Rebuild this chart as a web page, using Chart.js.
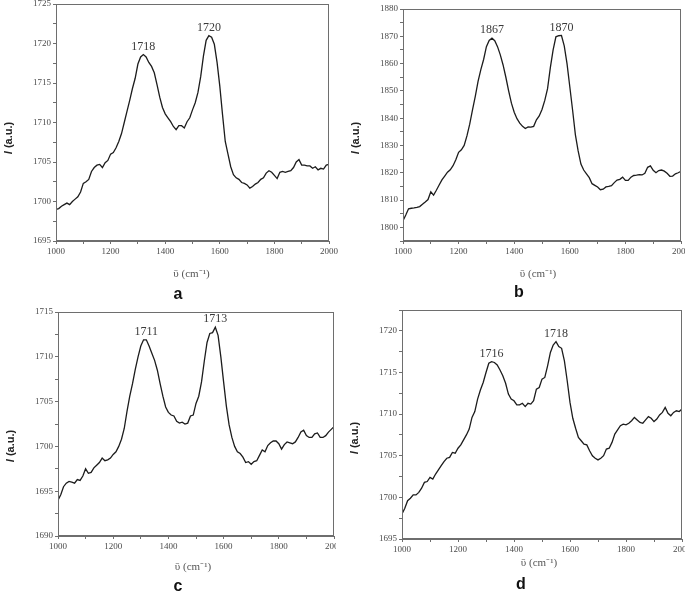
<!DOCTYPE html>
<html>
<head>
<meta charset="utf-8">
<script src="https://cdn.jsdelivr.net/npm/chart.js@4.4.1/dist/chart.umd.min.js"></script>
<style>
  html, body { margin: 0; padding: 0; background: #fff; }
  #page { position: relative; width: 685px; height: 594px; overflow: hidden; background: #fff; }
  .cell { position: absolute; overflow: hidden; }
  .cell canvas { position: absolute; }
</style>
</head>
<body>
<div id="page">
  <div class="cell" id="cellA"><canvas id="chartA"></canvas></div>
  <div class="cell" id="cellB"><canvas id="chartB"></canvas></div>
  <div class="cell" id="cellC"><canvas id="chartC"></canvas></div>
  <div class="cell" id="cellD"><canvas id="chartD"></canvas></div>
</div>
<script>
// wavenumber (cm-1)
const wavenumbers = [1000, 1010, 1020, 1030, 1040, 1050, 1060, 1070, 1080, 1090,
                     1100, 1110, 1120, 1130, 1140, 1150, 1160, 1170, 1180, 1190,
                     1200, 1210, 1220, 1230, 1240, 1250, 1260, 1270, 1280, 1290,
                     1300, 1310, 1320, 1330, 1340, 1350, 1360, 1370, 1380, 1390,
                     1400, 1410, 1420, 1430, 1440, 1450, 1460, 1470, 1480, 1490,
                     1500, 1510, 1520, 1530, 1540, 1550, 1560, 1570, 1580, 1590,
                     1600, 1610, 1620, 1630, 1640, 1650, 1660, 1670, 1680, 1690,
                     1700, 1710, 1720, 1730, 1740, 1750, 1760, 1770, 1780, 1790,
                     1800, 1810, 1820, 1830, 1840, 1850, 1860, 1870, 1880, 1890,
                     1900, 1910, 1920, 1930, 1940, 1950, 1960, 1970, 1980, 1990, 2000];

const intensityA = [1699.0, 1699.1, 1699.4, 1699.6, 1699.8, 1699.6, 1700.0, 1700.3, 1700.6, 1701.2,
                    1702.3, 1702.5, 1702.8, 1703.8, 1704.3, 1704.6, 1704.7, 1704.3, 1704.9, 1705.2,
                    1706.0, 1706.2, 1706.8, 1707.6, 1708.6, 1710.0, 1711.4, 1712.8, 1714.3, 1715.6,
                    1717.4, 1718.3, 1718.6, 1718.3, 1717.6, 1717.1, 1716.3, 1714.8, 1713.2, 1711.9,
                    1711.1, 1710.6, 1710.1, 1709.5, 1709.1, 1709.6, 1709.6, 1709.3, 1710.1, 1710.6,
                    1711.6, 1712.5, 1713.8, 1715.8, 1718.4, 1720.4, 1721.0, 1720.8, 1719.9, 1717.6,
                    1714.6, 1711.0, 1707.6, 1706.0, 1704.4, 1703.4, 1703.0, 1702.8, 1702.4, 1702.3,
                    1702.1, 1701.7, 1701.9, 1702.2, 1702.4, 1702.8, 1703.0, 1703.6, 1703.9, 1703.7,
                    1703.3, 1702.9, 1703.7, 1703.8, 1703.7, 1703.8, 1703.9, 1704.3, 1705.0, 1705.3,
                    1704.6, 1704.6, 1704.5, 1704.5, 1704.2, 1704.4, 1704.0, 1704.2, 1704.1, 1704.6, 1704.7];

const intensityB = [1802.4, 1804.5, 1806.8, 1807.0, 1807.1, 1807.3, 1807.6, 1808.5, 1809.3, 1810.2,
                    1813.0, 1811.8, 1813.6, 1815.5, 1817.4, 1818.8, 1820.2, 1821.1, 1822.6, 1824.8,
                    1827.5, 1828.4, 1830.0, 1833.5, 1837.8, 1843.0, 1848.0, 1853.5, 1857.8, 1861.5,
                    1866.2, 1868.5, 1869.3, 1868.4, 1866.2, 1863.2, 1859.5, 1855.0, 1850.0, 1845.5,
                    1842.2, 1839.8, 1838.2, 1837.0, 1836.2, 1836.8, 1836.7, 1837.0, 1839.4, 1840.8,
                    1843.2, 1846.5, 1850.8, 1858.5, 1865.0, 1869.8, 1870.2, 1870.3, 1866.5, 1860.0,
                    1851.5, 1843.0, 1834.0, 1828.0, 1823.2, 1821.0, 1819.6, 1818.2, 1816.0, 1815.4,
                    1814.8, 1813.8, 1814.0, 1814.8, 1815.0, 1815.3, 1816.4, 1817.3, 1817.6, 1818.4,
                    1817.2, 1817.2, 1818.4, 1819.0, 1819.1, 1819.3, 1819.2, 1819.8, 1822.0, 1822.5,
                    1820.9, 1820.0, 1820.8, 1821.0, 1820.6, 1819.8, 1818.7, 1818.8, 1819.6, 1820.0, 1820.5];

const intensityC = [1694.0, 1694.6, 1695.5, 1695.9, 1696.1, 1696.0, 1695.9, 1696.3, 1696.2, 1696.7,
                    1697.5, 1697.0, 1697.1, 1697.6, 1697.9, 1698.2, 1698.7, 1698.4, 1698.5, 1698.7,
                    1699.1, 1699.4, 1700.0, 1700.8, 1702.0, 1703.9, 1705.6, 1707.0, 1708.6, 1710.0,
                    1711.2, 1711.9, 1711.9, 1711.2, 1710.4, 1709.6, 1708.5, 1707.0, 1705.6, 1704.4,
                    1703.8, 1703.5, 1703.4, 1702.8, 1702.6, 1702.7, 1702.5, 1702.6, 1703.4, 1703.5,
                    1704.8, 1705.6, 1707.2, 1709.5, 1711.6, 1712.6, 1712.7, 1713.3, 1712.4, 1710.0,
                    1707.2, 1704.5, 1702.4, 1701.0, 1700.0, 1699.4, 1699.2, 1698.8, 1698.2, 1698.3,
                    1698.0, 1698.3, 1698.4, 1699.0, 1699.6, 1699.4, 1700.1, 1700.4, 1700.6, 1700.6,
                    1700.3, 1699.7, 1700.2, 1700.5, 1700.4, 1700.3, 1700.5, 1701.0, 1701.6, 1701.8,
                    1701.2, 1701.0, 1701.0, 1701.4, 1701.5, 1701.0, 1701.0, 1701.2, 1701.6, 1701.9, 1702.2];

const intensityD = [1698.0, 1698.7, 1699.6, 1699.9, 1700.3, 1700.3, 1700.6, 1701.1, 1701.8, 1701.9,
                    1702.4, 1702.2, 1702.8, 1703.3, 1703.8, 1704.3, 1704.7, 1704.8, 1705.4, 1705.3,
                    1705.9, 1706.3, 1706.9, 1707.5, 1708.2, 1709.6, 1710.3, 1711.8, 1712.9, 1713.8,
                    1715.0, 1716.1, 1716.3, 1716.2, 1715.9, 1715.3, 1714.6, 1713.7, 1712.4, 1711.8,
                    1711.6, 1711.1, 1711.1, 1711.3, 1710.9, 1711.3, 1711.2, 1711.6, 1713.0, 1713.2,
                    1714.2, 1714.4, 1715.8, 1717.4, 1718.3, 1718.7, 1718.1, 1717.9, 1716.4, 1714.0,
                    1711.4, 1709.5, 1708.3, 1707.2, 1706.8, 1706.4, 1706.3, 1705.6, 1705.0, 1704.7,
                    1704.5, 1704.7, 1705.0, 1705.8, 1705.9, 1706.6, 1707.6, 1708.1, 1708.6, 1708.8,
                    1708.7, 1708.9, 1709.2, 1709.6, 1709.3, 1709.0, 1708.9, 1709.3, 1709.7, 1709.5,
                    1709.1, 1709.4, 1709.9, 1710.2, 1710.8, 1710.1, 1709.8, 1710.2, 1710.4, 1710.3, 1710.6];

// peak annotations: wavenumber of the peak and its label
const peaksA = [1320, 1560];  const peakLabelsA = ['1718', '1720'];
const peaksB = [1320, 1570];  const peakLabelsB = ['1867', '1870'];
const peaksC = [1320, 1570];  const peakLabelsC = ['1711', '1713'];
const peaksD = [1320, 1550];  const peakLabelsD = ['1716', '1718'];

// y axis: min, max, minor step, labelled step
const yAxisA = [1695, 1725, 2.5, 5];
const yAxisB = [1795, 1880, 5, 10];
const yAxisC = [1690, 1715, 2.5, 5];
const yAxisD = [1695, 1722.5, 2.5, 5];

const panelLetters = ['a', 'b', 'c', 'd'];

// placement of each panel on the page (plot box and clip cell)
const layout = [
  { cell: [0, 0, 338, 300],     plot: [56, 4, 329, 241],    yTitleY: 134, xTitleDx: -1, xTitleDy: 33, letterDx: 122, letterDy: 54 },
  { cell: [343, 0, 342, 300],   plot: [403, 9, 681, 241],   yTitleY: 129, xTitleDx: -4, xTitleDy: 33, letterDx: 116, letterDy: 52 },
  { cell: [0, 300, 336, 294],   plot: [58, 312, 334, 536],  yTitleY: 134, xTitleDx: -3, xTitleDy: 31, letterDx: 120, letterDy: 51 },
  { cell: [343, 300, 342, 294], plot: [402, 310, 682, 539], yTitleY: 128, xTitleDx: -3, xTitleDy: 24, letterDx: 119, letterDy: 46 }
];

const LEFT_SPACE = 60, TOP_SPACE = 12, RIGHT_SPACE = 20, BOTTOM_SPACE = 70;
const AXIS_GRAY = '#6e6e6e';
const TICK_TEXT = '#4a4a4a';

const decor = {
  id: 'decor',
  afterDraw(chart, args, opts) {
    const { ctx, chartArea: a, scales } = chart;
    ctx.save();
    // frame around the plot
    ctx.strokeStyle = AXIS_GRAY;
    ctx.lineWidth = 1;
    ctx.strokeRect(Math.round(a.left) + 0.5, Math.round(a.top) + 0.5,
                   Math.round(a.right - a.left) - 1, Math.round(a.bottom - a.top) - 1);

    // peak labels
    ctx.font = '12px "Liberation Serif", serif';
    ctx.fillStyle = '#3a3a3a';
    ctx.textAlign = 'center';
    ctx.textBaseline = 'bottom';
    opts.peaks.forEach((p, i) => {
      const idx = wavenumbers.indexOf(p);
      const x = scales.x.getPixelForValue(p);
      const y = scales.y.getPixelForValue(opts.values[idx]);
      ctx.fillText(opts.labels[i], x, y - 2);
    });

    // x axis title
    const cx = (a.left + a.right) / 2 + opts.pos.xTitleDx;
    ctx.font = '11px "Liberation Serif", serif';
    ctx.fillStyle = '#555';
    ctx.textBaseline = 'middle';
    ctx.fillText('\u1FE1 (cm\u207B\u00B9)', cx, a.bottom + opts.pos.xTitleDy);

    // y axis title, italic I then (a.u.)
    ctx.translate(a.left - 47, a.top + opts.pos.yTitleY);
    ctx.rotate(-Math.PI / 2);
    ctx.fillStyle = '#222';
    ctx.textAlign = 'left';
    const f1 = 'italic bold 11px "Liberation Sans", sans-serif';
    const f2 = 'bold 11px "Liberation Sans", sans-serif';
    ctx.font = f1; const w1 = ctx.measureText('I ').width;
    ctx.font = f2; const w2 = ctx.measureText('(a.u.)').width;
    ctx.font = f1; ctx.fillText('I', -(w1 + w2) / 2, 0);
    ctx.font = f2; ctx.fillText('(a.u.)', -(w1 + w2) / 2 + w1, 0);
    ctx.setTransform(1, 0, 0, 1, 0, 0);

    // panel letter
    ctx.font = 'bold 16px "Liberation Sans", sans-serif';
    ctx.fillStyle = '#111';
    ctx.textAlign = 'center';
    ctx.fillText(opts.letter, a.left + opts.pos.letterDx, a.bottom + opts.pos.letterDy);
    ctx.restore();
  }
};

function makePanel(key, idx, values, yAxis, peaks, labels) {
  const pos = layout[idx];
  const cell = document.getElementById('cell' + key);
  const [cx, cy, cw, ch] = pos.cell;
  cell.style.left = cx + 'px'; cell.style.top = cy + 'px';
  cell.style.width = cw + 'px'; cell.style.height = ch + 'px';

  const [L, T, R, B] = pos.plot;
  const canvas = document.getElementById('chart' + key);
  canvas.width = (R - L) + LEFT_SPACE + RIGHT_SPACE;
  canvas.height = (B - T) + TOP_SPACE + BOTTOM_SPACE;
  canvas.style.left = (L - LEFT_SPACE - cx) + 'px';
  canvas.style.top = (T - TOP_SPACE - cy) + 'px';

  const [yMin, yMax, yStep, yMajor] = yAxis;
  const tickFont = { family: '"Liberation Serif", serif', size: 9 };

  new Chart(canvas, {
    type: 'line',
    data: {
      datasets: [{
        data: wavenumbers.map((w, i) => ({ x: w, y: values[i] })),
        borderColor: '#1c1c1c',
        borderWidth: 1.3,
        pointRadius: 0,
        tension: 0,
        fill: false
      }]
    },
    options: {
      responsive: false,
      animation: false,
      devicePixelRatio: 1,
      layout: { padding: { left: 0, top: TOP_SPACE, right: RIGHT_SPACE, bottom: 0 } },
      plugins: {
        legend: { display: false },
        tooltip: { enabled: false },
        decor: { values: values, peaks: peaks, labels: labels, letter: panelLetters[idx], pos: pos }
      },
      scales: {
        x: {
          type: 'linear',
          min: 1000, max: 2000,
          afterFit: s => { s.height = BOTTOM_SPACE; },
          border: { color: AXIS_GRAY },
          grid: { drawOnChartArea: false, tickLength: 3, color: AXIS_GRAY },
          ticks: {
            stepSize: 100, autoSkip: false, maxRotation: 0, padding: 2,
            color: TICK_TEXT, font: tickFont,
            callback: v => (v % 200 === 0 ? String(v) : '')
          }
        },
        y: {
          min: yMin, max: yMax,
          afterFit: s => { s.width = LEFT_SPACE; },
          border: { color: AXIS_GRAY },
          grid: { drawOnChartArea: false, tickLength: 3, color: AXIS_GRAY },
          ticks: {
            stepSize: yStep, autoSkip: false, padding: 2,
            color: TICK_TEXT, font: tickFont,
            callback: v => (Math.abs(v % yMajor) < 1e-6 ? String(v) : '')
          }
        }
      }
    },
    plugins: [decor]
  });
}

makePanel('A', 0, intensityA, yAxisA, peaksA, peakLabelsA);
makePanel('B', 1, intensityB, yAxisB, peaksB, peakLabelsB);
makePanel('C', 2, intensityC, yAxisC, peaksC, peakLabelsC);
makePanel('D', 3, intensityD, yAxisD, peaksD, peakLabelsD);
</script>
</body>
</html>
